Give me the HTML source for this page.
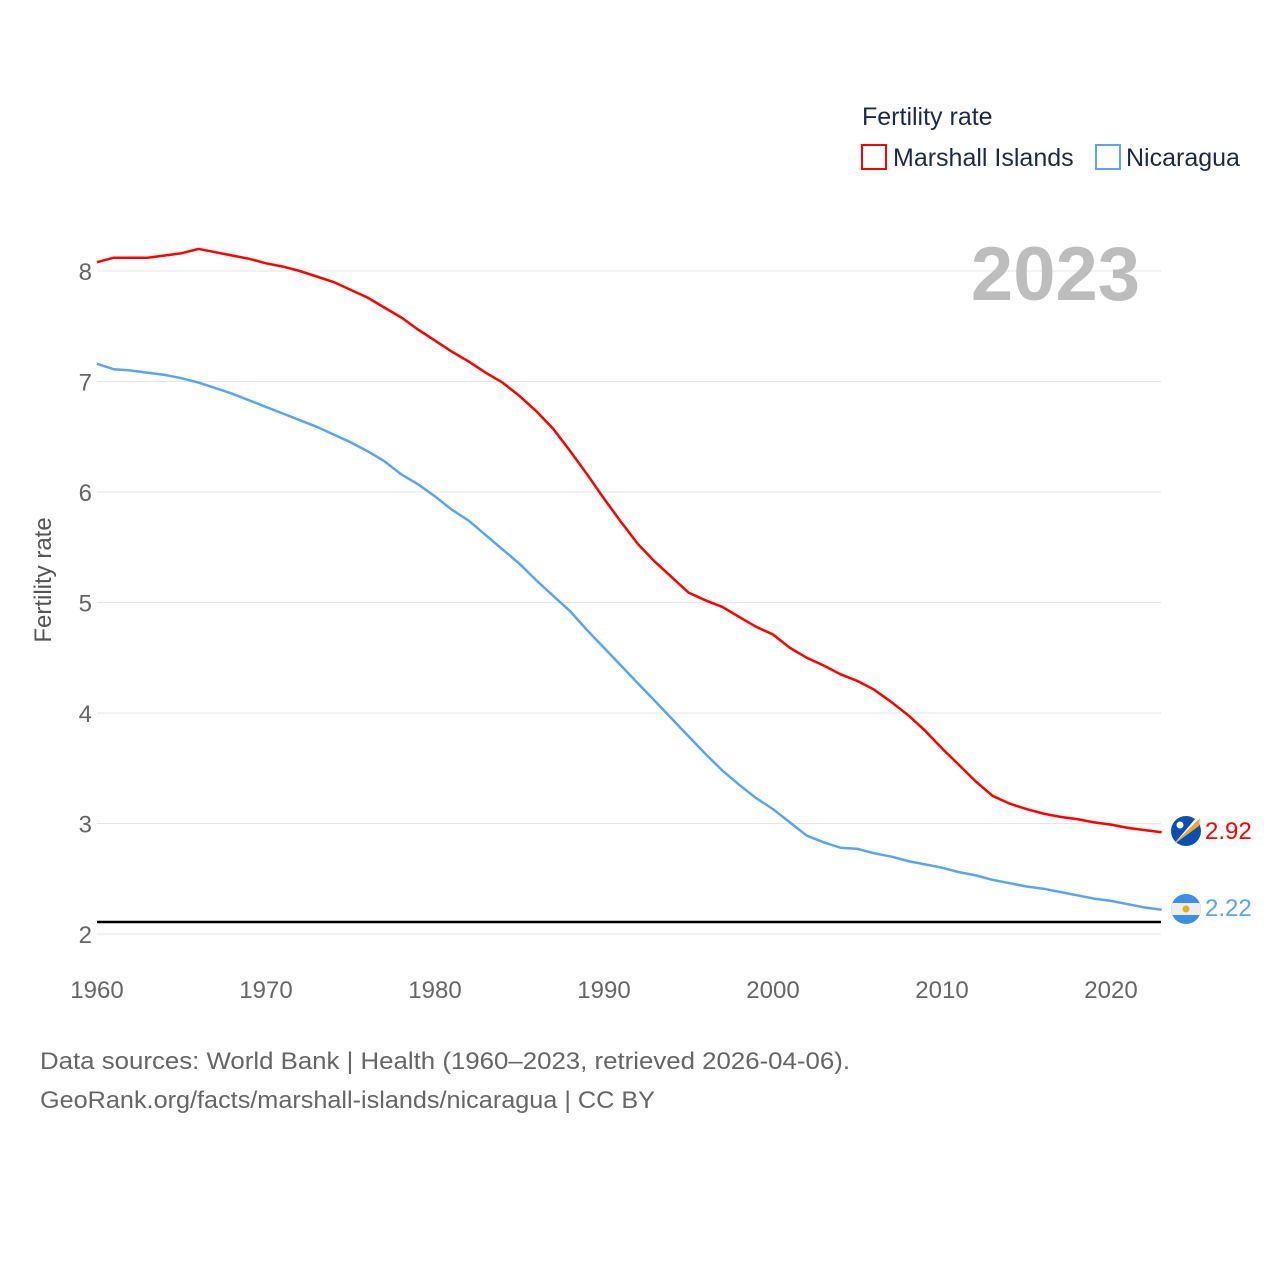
<!DOCTYPE html>
<html><head><meta charset="utf-8"><style>
body{margin:0;background:#fff;font-family:"Liberation Sans",sans-serif}
</style></head><body>
<svg width="1280" height="1280" xmlns="http://www.w3.org/2000/svg" font-family="Liberation Sans, sans-serif">
<g id="grid"></g>
<g id="xt"></g>
<text x="1140" y="300" text-anchor="end" font-size="76" font-weight="bold" fill="#bdbdbd">2023</text>
<text transform="translate(51,580) rotate(-90)" text-anchor="middle" font-size="24" fill="#555">Fertility rate</text>
<line x1="97" x2="1161" y1="922" y2="922" stroke="#000" stroke-width="2.5"/>
<g id="lines"></g>
<text x="862" y="125" font-size="25" fill="#1a2b4a">Fertility rate</text>
<g><rect x="862" y="145" width="24" height="24" fill="none" stroke="#f00" stroke-width="2"/><text x="893" y="166" font-size="25" fill="#1a2b4a">Marshall Islands</text></g>
<g><rect x="1096" y="145" width="24" height="24" fill="none" stroke="#5aa5f0" stroke-width="2"/><text x="1126" y="166" font-size="25" fill="#1a2b4a">Nicaragua</text></g>
<g><circle cx="1186" cy="831" r="15" fill="#0b4fb0"/><path d="M1173,845 L1200,818 L1199,826 Z" fill="#f6a623"/><path d="M1173,845 L1200,818 L1196,818 Z" fill="#fff"/><circle cx="1180" cy="825" r="3.5" fill="#fff"/></g>
<g><clipPath id="cn"><circle cx="1186" cy="909" r="15"/></clipPath><g clip-path="url(#cn)"><rect x="1170" y="893" width="32" height="32" fill="#3e8ee8"/><rect x="1170" y="903" width="32" height="12" fill="#eee"/></g><circle cx="1186" cy="909" r="3.5" fill="#e0b020"/></g>
<text id="lab-m" x="1205" y="839" font-size="24" fill="#f00">2.92</text>
<text id="lab-n" x="1205" y="916" font-size="24" fill="#5aa5f0">2.22</text>
<text x="40" y="1069" font-size="24" fill="#666" textLength="810" lengthAdjust="spacingAndGlyphs">Data sources: World Bank | Health (1960–2023, retrieved 2026-04-06).</text>
<text x="40" y="1108" font-size="24" fill="#666" textLength="615" lengthAdjust="spacingAndGlyphs">GeoRank.org/facts/marshall-islands/nicaragua | CC BY</text>
</svg>
<script>
const years=[];for(let y=1960;y<=2023;y++)years.push(y);
const marshall=[8.08,8.12,8.12,8.12,8.14,8.16,8.2,8.17,8.14,8.11,8.07,8.04,8.0,7.95,7.9,7.83,7.76,7.67,7.58,7.47,7.37,7.27,7.18,7.08,6.99,6.87,6.73,6.57,6.37,6.16,5.94,5.73,5.53,5.37,5.23,5.09,5.02,4.96,4.87,4.78,4.71,4.59,4.5,4.43,4.35,4.29,4.21,4.1,3.98,3.84,3.68,3.53,3.38,3.25,3.18,3.13,3.09,3.06,3.04,3.01,2.99,2.96,2.94,2.92];
const nicaragua=[7.16,7.11,7.1,7.08,7.06,7.03,6.99,6.94,6.89,6.83,6.77,6.71,6.65,6.59,6.52,6.45,6.37,6.28,6.16,6.07,5.96,5.84,5.74,5.61,5.48,5.35,5.2,5.06,4.92,4.75,4.59,4.43,4.27,4.11,3.95,3.79,3.63,3.48,3.35,3.23,3.13,3.01,2.89,2.83,2.78,2.77,2.73,2.7,2.66,2.63,2.6,2.56,2.53,2.49,2.46,2.43,2.41,2.38,2.35,2.32,2.3,2.27,2.24,2.22];
const yTicks=[2,3,4,5,6,7,8];
const xTicks=[1960,1970,1980,1990,2000,2010,2020];
const X=y=>97+(y-1960)*(1014/60);
const Y=v=>934-(v-2)*110.5;
const NS="http://www.w3.org/2000/svg";
const grid=document.getElementById('grid');
yTicks.forEach(t=>{
 const l=document.createElementNS(NS,'line');
 l.setAttribute('x1',97);l.setAttribute('x2',1161);l.setAttribute('y1',Y(t));l.setAttribute('y2',Y(t));
 l.setAttribute('stroke','#e6e6e6');
 
 
 grid.appendChild(l);
 const tx=document.createElementNS(NS,'text');
 tx.setAttribute('x',92);tx.setAttribute('y',Y(t)+9);tx.setAttribute('text-anchor','end');
 tx.setAttribute('font-size','24');tx.setAttribute('fill','#666');tx.textContent=t;
 
 
 grid.appendChild(tx);
});
const xt=document.getElementById('xt');
xTicks.forEach(t=>{
 const tx=document.createElementNS(NS,'text');
 tx.setAttribute('x',X(t));tx.setAttribute('y',998);tx.setAttribute('text-anchor','middle');
 tx.setAttribute('font-size','24');tx.setAttribute('fill','#666');tx.textContent=t;
 
 
 xt.appendChild(tx);
});
const g=document.getElementById('lines');
function line(vals,color,name){
 const p=document.createElementNS(NS,'path');
 p.setAttribute('d',vals.map((v,i)=>(i?'L':'M')+X(years[i]).toFixed(1)+','+Y(v).toFixed(1)).join(''));
 p.setAttribute('fill','none');p.setAttribute('stroke',color);p.setAttribute('stroke-width','2.5');
 
 
 g.appendChild(p);
}
line(marshall,'#f00','marshall-islands-line');
line(nicaragua,'#5aa5f0','nicaragua-line');
document.getElementById('lab-m').textContent=marshall[marshall.length-1].toFixed(2);
document.getElementById('lab-n').textContent=nicaragua[nicaragua.length-1].toFixed(2);
</script>
</body></html>
